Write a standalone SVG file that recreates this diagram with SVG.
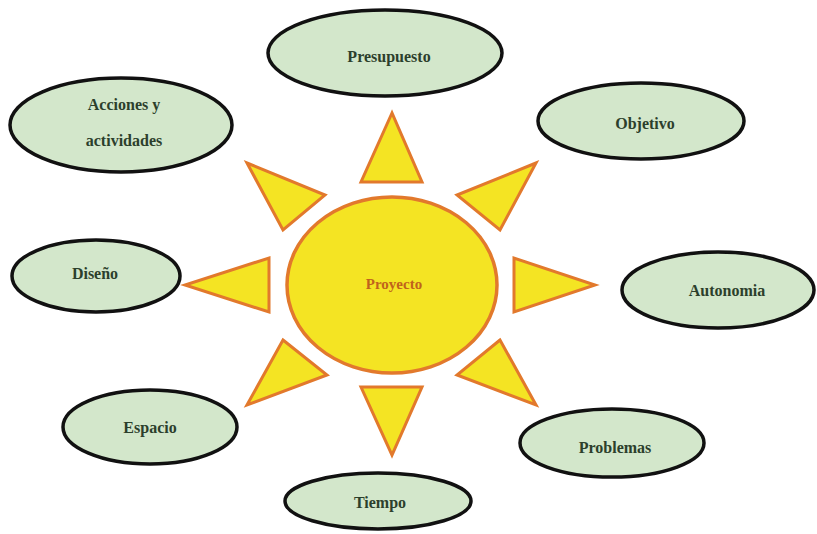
<svg xmlns="http://www.w3.org/2000/svg" width="817" height="534" viewBox="0 0 817 534">
<style>
.node ellipse{fill:#d3e7cb;stroke:#111;stroke-width:3.5}
.node text{font-family:"Liberation Serif","Times New Roman",serif;font-weight:bold;font-size:16px;fill:#2c3f2c;text-anchor:middle;dominant-baseline:central}
.ray{fill:#f4e423;stroke:#e2792c;stroke-width:3;stroke-linejoin:miter}
#center ellipse{fill:#f4e423;stroke:#e2792c;stroke-width:3.5}
#center text{font-family:"Liberation Serif","Times New Roman",serif;font-weight:bold;font-size:15px;fill:#c0621c;text-anchor:middle;dominant-baseline:central}
</style>
<rect width="817" height="534" fill="#fff"/>
<g id="connectors">
<polygon class="ray" points="392,113 361,182 422,182"/>
<polygon class="ray" points="247,163 325,195 283,230"/>
<polygon class="ray" points="536,163 457,195 500,230"/>
<polygon class="ray" points="269,258 269,312 185,285"/>
<polygon class="ray" points="514,258 514,312 595,285"/>
<polygon class="ray" points="283,340 327,375 247,405"/>
<polygon class="ray" points="500,340 457,375 536,405"/>
<polygon class="ray" points="361,387 422,387 392,455"/>
</g>
<g id="center"><ellipse cx="392" cy="285" rx="105" ry="88"/><text x="394" y="284">Proyecto</text></g>
<g id="presupuesto" class="node"><ellipse cx="385" cy="53" rx="117" ry="43"/><text x="389" y="56">Presupuesto</text></g>
<g id="acciones" class="node"><ellipse cx="121" cy="125" rx="111" ry="47"/><text x="124" y="104">Acciones y</text><text x="124" y="140">actividades</text></g>
<g id="objetivo" class="node"><ellipse cx="641" cy="121" rx="103" ry="38"/><text x="645" y="123">Objetivo</text></g>
<g id="diseno" class="node"><ellipse cx="96" cy="276" rx="84" ry="36"/><text x="95" y="273">Diseño</text></g>
<g id="autonomia" class="node"><ellipse cx="718" cy="290" rx="96" ry="38"/><text x="727" y="290">Autonomia</text></g>
<g id="espacio" class="node"><ellipse cx="150" cy="427" rx="87" ry="37"/><text x="150" y="427">Espacio</text></g>
<g id="problemas" class="node"><ellipse cx="612" cy="443" rx="92" ry="34"/><text x="615" y="447">Problemas</text></g>
<g id="tiempo" class="node"><ellipse cx="378" cy="501" rx="93" ry="28"/><text x="380" y="502">Tiempo</text></g>
</svg>
